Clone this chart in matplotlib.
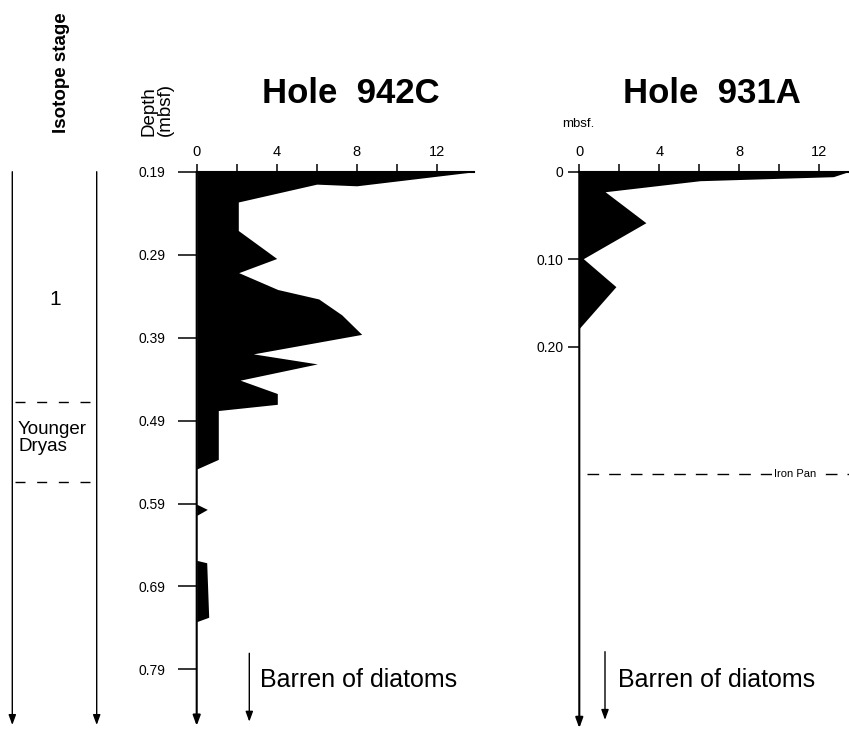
import numpy as np
import matplotlib.pyplot as plt

plt.rcParams['font.family'] = ['Liberation Sans', 'DejaVu Sans']

W, H = 849, 729

# Hole 942C : diatom abundance against depth (mbsf)
depth_942c = [0.19, 0.19, 0.207, 0.205, 0.2265, 0.2609, 0.2946, 0.3117, 0.332, 0.3434,
              0.3625, 0.3861, 0.4096, 0.4217, 0.4413, 0.4574, 0.4704, 0.4779, 0.5368, 0.5484,
              0.5908, 0.5971, 0.6043, 0.6585, 0.6614, 0.7271, 0.7324]
abund_942c = [0, 13.9, 8.0, 6.0, 2.08, 2.08, 4.0, 2.1, 4.05, 6.1,
              7.25, 8.25, 2.83, 6.03, 2.17, 4.03, 4.03, 1.08, 1.08, 0,
              0, 0.53, 0, 0, 0.5, 0.6, 0]
depth_ticks_942c = [0.19, 0.29, 0.39, 0.49, 0.59, 0.69, 0.79]

# Hole 931A
depth_931a = [0, 0, 0.0057, 0.0103, 0.0229, 0.0583, 0.0994, 0.1314, 0.179]
abund_931a = [0, 13.45, 12.7, 6.03, 1.29, 3.33, 0.2, 1.83, 0]
depth_ticks_931a = [0, 0.10, 0.20]
depth_labels_931a = ['0', '0.10', '0.20']

abund_ticks = [0, 4, 8, 12]
abund_minor = [2, 6, 10]

younger_dryas = [0.4674, 0.5643]
stage1_depth = 0.3446
iron_pan_depth = 0.345


def box(x0, y0, x1, y1):
    # pixel box -> figure fraction rect
    return [x0 / W, 1 - y1 / H, (x1 - x0) / W, (y1 - y0) / H]


def arrow(ax, x, y0, y1, lw):
    ax.annotate('', xy=(x, y1), xytext=(x, y0),
                arrowprops=dict(arrowstyle='-|>,head_length=0.6,head_width=0.22',
                                color='black', lw=lw, shrinkA=0, shrinkB=0))


fig = plt.figure(figsize=(W / 100, H / 100), dpi=100)
ax1 = fig.add_axes(box(196.7, 171.7, 474, 729))
ax2 = fig.add_axes(box(579.3, 171.7, 848.3, 729))
ax0 = fig.add_axes(box(0, 171.7, 120, 729), sharey=ax1)

# ---- Hole 942C ----
ax1.fill_betweenx(depth_942c, 0, abund_942c, color='black', lw=0)
ax1.set_xlim(0, 13.865)
ax1.set_ylim(0.8618, 0.19)
ax1.xaxis.tick_top()
ax1.set_xticks(abund_ticks)
ax1.set_xticks(abund_minor, minor=True)
ax1.tick_params(axis='x', which='both', direction='out', length=6, width=1.1,
                labelsize=10.5, pad=3.5)
ax1.set_yticks(depth_ticks_942c, [f'{d:.2f}' for d in depth_ticks_942c])
ax1.tick_params(axis='y', direction='out', length=13.5, width=1.1, labelsize=10, pad=9)
for s in ['left', 'right', 'bottom']:
    ax1.spines[s].set_visible(False)
ax1.spines['top'].set_linewidth(1.5)
ax1.patch.set_visible(False)
arrow(ax1, 0, 0.19, 0.858, 1.5)
arrow(ax1, 2.63, 0.7705, 0.853, 1.0)
ax1.text(3.165, 0.8108, 'Barren of diatoms', fontsize=18, va='baseline')

# ---- Hole 931A ----
ax2.fill_betweenx(depth_931a, 0, abund_931a, color='black', lw=0)
ax2.set_xlim(0, 13.45)
ax2.set_ylim(0.637, 0)
ax2.xaxis.tick_top()
ax2.set_xticks(abund_ticks)
ax2.set_xticks(abund_minor, minor=True)
ax2.tick_params(axis='x', which='both', direction='out', length=6, width=1.1,
                labelsize=10.5, pad=3.5)
ax2.set_yticks(depth_ticks_931a, depth_labels_931a)
ax2.tick_params(axis='y', direction='out', length=8, width=1.1, labelsize=10, pad=3.4)
for s in ['left', 'right', 'bottom']:
    ax2.spines[s].set_visible(False)
ax2.spines['top'].set_linewidth(1.5)
ax2.patch.set_visible(False)
arrow(ax2, 0, 0, 0.636, 1.5)
arrow(ax2, 1.285, 0.5486, 0.6266, 1.0)
ax2.text(1.95, 0.5886, 'Barren of diatoms', fontsize=18, va='baseline')
ax2.plot([0.385, 13.5], [iron_pan_depth] * 2, color='black', lw=1,
         linestyle=(0, (8.4, 7.2)), clip_on=False)
ax2.text(10.81, iron_pan_depth, 'Iron Pan', fontsize=8, ha='center', va='center',
         bbox=dict(facecolor='white', edgecolor='none', pad=1.5))

# ---- isotope stage column ----
ax0.set_xlim(0, 120)
ax0.axis('off')
arrow(ax0, 12.3, 0.19, 0.857, 1.0)
arrow(ax0, 96.7, 0.19, 0.857, 1.0)
for d in younger_dryas:
    ax0.plot([15, 90], [d, d], color='black', lw=1, linestyle=(0, (7.2, 8.4)))
ax0.text(55, stage1_depth, '1', fontsize=15, ha='center', va='center')
ax0.text(18, np.mean(younger_dryas) - 0.005, 'Younger\nDryas', fontsize=13.5, ha='left',
         va='center', linespacing=1.05)

# ---- headings ----
fig.text(62 / W, 1 - 73 / H, 'Isotope stage', rotation=90, fontsize=13.5,
         fontweight='bold', ha='center', va='center')
fig.text(157 / W, 1 - 136.5 / H, 'Depth\n(mbsf)', rotation=90, fontsize=13.5,
         ha='center', va='bottom', multialignment='left', linespacing=0.92)
fig.text(351 / W, 1 - 102.7 / H, 'Hole  942C', fontsize=25, fontweight='bold',
         ha='center', va='baseline')
fig.text(712 / W, 1 - 102.7 / H, 'Hole  931A', fontsize=25, fontweight='bold',
         ha='center', va='baseline')
fig.text(562 / W, 1 - 126.7 / H, 'mbsf.', fontsize=9.5, ha='left', va='baseline')

fig.savefig('out.png', dpi=100)
